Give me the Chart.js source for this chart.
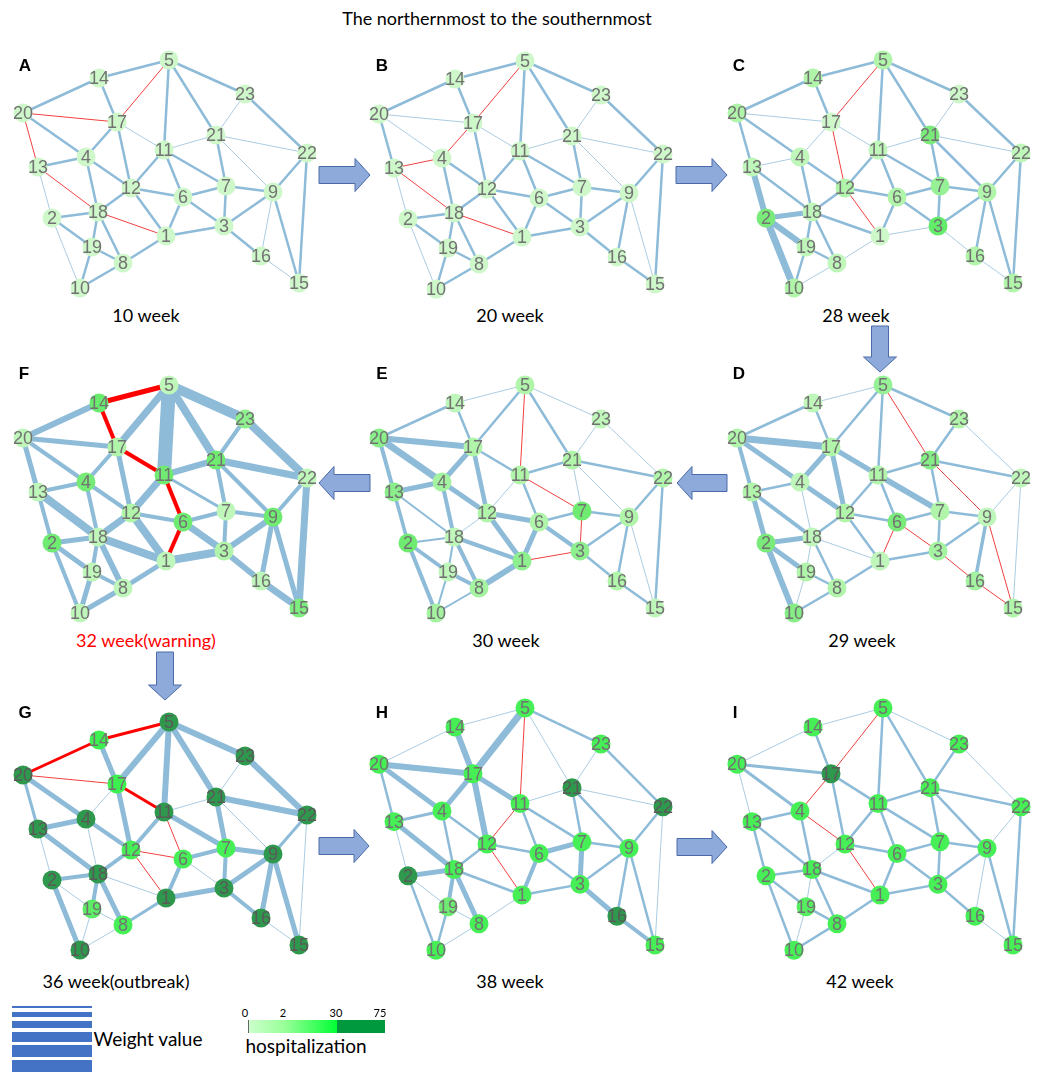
<!DOCTYPE html>
<html>
<head>
<meta charset="utf-8">
<script src="https://cdn.jsdelivr.net/npm/chart.js@4.4.1/dist/chart.umd.min.js"></script>
<style>
  html, body { margin: 0; padding: 0; background: #fff; }
  #stage { position: relative; width: 1040px; height: 1072px; overflow: hidden; font-family: Lato, "Open Sans", sans-serif; color: #000; }
  #stage canvas { position: absolute; }
  #arrows { position: absolute; left: 0; top: 0; }
  .lbl { position: absolute; white-space: nowrap; transform: translate(-50%, -50%); font-size: 18px; }
  .letter { position: absolute; transform: translate(-50%, -50%); font: bold 17px "Liberation Sans", Arial, sans-serif; }
  .wbar { position: absolute; left: 12px; width: 80px; background: #4472c4; }
  .tick { position: absolute; font-size: 11px; transform: translate(-50%, -50%); }
</style>
</head>
<body>
<div id="stage">
  <svg id="arrows" width="1040" height="1072"></svg>
  <div class="lbl" style="left:497px;top:18px">The northernmost to the southernmost</div>
</div>
<script>
// node layout (same for every week), node 1..23
const NODE_IDS = [1, 2, 3, 4, 5, 6, 7, 8, 9, 10, 11, 12, 13, 14, 15, 16, 17, 18, 19, 20, 21, 22, 23];
const NODE_X = [166, 52, 224, 86, 169, 183, 226, 123, 273, 80, 164, 131, 38, 99, 299, 261, 117, 98, 92, 23, 216, 307, 245];
const NODE_Y = [236, 218, 226, 157, 60, 197, 186, 263, 192, 288, 150, 188, 167, 78, 283, 256, 122, 212, 247, 113, 135, 153, 94];

const EDGES = [
   [5, 14], [5, 17], [5, 11], [5, 21], [5, 23],
   [14, 20], [14, 17],
   [20, 17], [20, 4], [20, 13],
   [17, 4], [17, 11], [17, 12],
   [4, 13], [4, 12], [4, 18],
   [13, 18], [13, 2],
   [23, 21], [23, 22],
   [21, 11], [21, 22], [21, 7], [21, 9],
   [11, 12], [11, 6], [11, 7],
   [22, 9], [22, 15],
   [12, 6], [12, 18], [12, 1],
   [7, 6], [7, 9], [7, 3],
   [9, 3], [9, 16], [9, 15],
   [6, 3], [6, 1],
   [18, 2], [18, 19], [18, 8], [18, 1],
   [2, 19], [2, 10],
   [3, 1], [3, 16],
   [1, 8],
   [19, 8], [19, 10],
   [8, 10],
   [16, 15],
];

// edge weight per week, in EDGES order (negative = red link)
const W_A = [2.5, -1, 2.5, 2.5, 2.5, 2.5, 2.5, -1, 2.5, -1, 2.5, 1, 2.5, 2.5, 2.5, 2.5, -1, 1, 1, 2.5, 1, 1, 2.5, 1, 2.5, 2.5, 2.5, 2.5, 2.5, 2.5, 2.5, 2.5, 2.5, 2.5, 2.5, 2.5, 1, 2.5, 2.5, 2.5, 2.5, 2.5, 2.5, -1, 2.5, 1, 2.5, 2.5, 2.5, 2.5, 2.5, 2.5, 1];
const W_B = [2.5, -1, 2.5, 2.5, 2.5, 2.5, 2.5, 1, 1, 2.5, -1, 1, 2.5, -1, 2.5, 2.5, -1, 1, 1, 2.5, 1, 1, 2.5, 1, 2.5, 2.5, 2.5, 2.5, 2.5, 2.5, 2.5, 2.5, 2.5, 2.5, 2.5, 2.5, 2.5, 1, 2.5, 2.5, 2.5, 2.5, 2.5, -1, 2.5, 1, 2.5, 2.5, 2.5, 2.5, 2.5, 2.5, 2.5];
const W_C = [2.5, -1, 2.5, 2.5, 2.5, 2.5, 2.5, 1, 2.5, 2.5, 1, 1, -1, 1, 2.5, 2.5, 2.5, 6, 1, 2.5, 1, 1, 2.5, 2.5, 2.5, 2.5, 2.5, 2.5, 2.5, 2.5, 2.5, -1, 2.5, 2.5, 2.5, 2.5, 2.5, 2.5, 2.5, 2.5, 5, 2.5, 2.5, 2.5, 6, 7, 1, 1, 1, 2.5, 2.5, 1, 1];
const W_D = [1, 2.5, 2.5, -1, 2.5, 2.5, 2.5, 7, 5, 4, 5, 5, 5, 2.5, 5, 1, 4, 5, 2.5, 1, 2.5, 2.5, 2.5, -1, 2.5, 2.5, 6, 1, 1, 2.5, 2.5, 2.5, 2.5, 2.5, 2.5, 2.5, 3.5, -1, -1, -1, 5, 1, 2.5, 1, 5, 6, 2.5, -1, 2.5, 2.5, 1, 2.5, -1];
const W_E = [1, 2.5, -1, 2.5, 1, 2.5, 2.5, 6, 7, 4, 5, 2.5, 4.5, 5, 5, 4, 2, 3.5, 1, 1, 2.5, 2.5, 1, 1, 1, 2.5, -1, 2.5, 2.5, 5, 1, 5, 2.5, 2.5, -1, 2.5, 2.5, 1, 4, 5, 2, 2, 4, 4, 4, 4, -1, 2.5, 6, 4, 2, 2, 2.5];
const W_F = [-5, 7, 14, 8, 10, 6, -4, 5, 4, 5, 4, -4, 5, 4, 4, 4, 8, 4, 4, 8, 6, 7, 4, 4, 7, -4, 3, 4, 7, 4, 7, 8, 4, 4, 4, 6, 5, 5, 7, -4, 5, 4, 6, 8, 5, 4, 8, 6, 5, 4, 5, 5, 7];
const W_G = [-3, 6, 6, 6, 6, -3, 5, -1, 5, 3, 1, -3, 5, 5, 4, 1, 5, 1, 1, 6, 1, 6, 5, 1, 4, -1, 5, 3, 1, -1, 4, -1, 4, 5, 4, 5, 5, 5, 1, 4, 4, 4, 5, 1, 1, 5, 5, 4, 3, 1, 1, 1, 1];
const W_H = [1, 7, -1, 1, 2.5, 1, 6, 6, 5, 2.5, 5, 5, 6, 3, 2.5, 2.5, 5, 1, 1, 2.5, 1, 1, 2.5, 2.5, -1, 2.5, 2.5, 2.5, 1, 2.5, 2.5, -1, 5, 2.5, 5, 2.5, 2.5, 2.5, 2.5, 4, 5, 4, 5, 2.5, 1, 2.5, 2.5, 5, 1, 1, 2.5, 1, 4];
const W_I = [1, -1, 2.5, 2.5, 1, 1, 2.5, 3, 3, 1, -1, 2.5, 2.5, 2.5, -1, 2.5, 2.5, 2.5, 2.5, 1, 2.5, 2.5, 2.5, 2.5, 2.5, 2.5, 2.5, 1, 2.5, 2.5, 1, -1, 2.5, 2.5, 2.5, 2.5, 1, 2.5, 2.5, 2.5, 2.5, 1, 2.5, 2.5, 2.5, 2.5, 2.5, 2.5, 2.5, 2.5, 1, 2.5, 1];

// hospitalization per node (1..23) per week
const V_A = [0, 0, 0, 0, 0, 0, 0, 0, 0, 0, 0, 0, 0, 0, 0, 0, 0, 0, 0, 0, 0, 0, 0];
const V_B = [0, 0, 0, 0, 0, 0, 0, 0, 0, 0, 0, 0, 0, 0, 0, 0, 0, 0, 0, 0, 0, 0, 0];
const V_C = [0, 9, 16, 0.5, 1, 1, 2, 0.5, 1, 1, 0.5, 1, 0.5, 1, 1, 1, 0, 0.5, 0.5, 1, 9, 0.5, 0];
const V_D = [0.5, 9, 1.5, 0.5, 2, 9, 1, 1, 0.5, 6, 1, 1, 1, 0.5, 1, 1.5, 1, 0.5, 1, 1, 6, 0.5, 1];
const V_E = [4, 12, 4, 1.5, 1, 1, 12, 1.5, 1, 1.5, 1, 1, 5, 0.5, 0.5, 1, 1, 0.5, 0.5, 5, 1, 1, 0.5];
const V_F = [0.5, 12, 1, 10, 0.5, 12, 0.5, 0.5, 12, 0.5, 12, 1, 0.5, 14, 8, 0.5, 1, 0.5, 0.5, 0.5, 12, 0.5, 4];
const V_G = [45, 45, 45, 45, 45, 25, 25, 25, 45, 45, 45, 25, 45, 28, 45, 45, 28, 45, 18, 45, 45, 45, 45];
const V_H = [25, 45, 25, 25, 25, 25, 25, 25, 25, 25, 25, 25, 25, 25, 25, 45, 25, 25, 12, 25, 45, 45, 25];
const V_I = [25, 25, 25, 25, 25, 25, 25, 25, 25, 25, 25, 25, 25, 25, 25, 25, 45, 25, 20, 25, 25, 25, 25];

const PANEL_KEYS = ["A", "B", "C", "D", "E", "F", "G", "H", "I"];
const PANEL_WEEKS = ["10 week", "20 week", "28 week", "29 week", "30 week", "32 week(warning)", "36 week(outbreak)", "38 week", "42 week"];
const PANEL_W = [W_A, W_B, W_C, W_D, W_E, W_F, W_G, W_H, W_I];
const PANEL_V = [V_A, V_B, V_C, V_D, V_E, V_F, V_G, V_H, V_I];

const LEGEND_TICKS = [0, 2, 30, 75];

// page placement of each panel: offset + vertical stretch, letter and caption spots
const PANEL_BOX = {
   A: { dx: 0, dy: 0, sy: 1, letter: [25, 66], cap: [146, 315] },
   B: { dx: 356, dy: 1, sy: 1, letter: [382, 66], cap: [510, 315] },
   C: { dx: 714, dy: 0, sy: 1, letter: [739, 66], cap: [856, 315] },
   D: { dx: 714, dy: 324.5, sy: 1, letter: [739, 374], cap: [862, 640] },
   E: { dx: 356, dy: 324.5, sy: 1, letter: [382, 374], cap: [506, 640] },
   F: { dx: 0, dy: 325, sy: 1, letter: [24, 374], cap: [146, 640] },
   G: { dx: 0, dy: 662, sy: 1, letter: [25, 713], cap: [116, 981] },
   H: { dx: 356, dy: 644.3, sy: 1.061, letter: [382, 713], cap: [510, 981] },
   I: { dx: 714, dy: 644.3, sy: 1.061, letter: [735, 713], cap: [860, 981] },
};
const X_RANGE = [5, 325];
const Y_RANGE = [45, 300];

const BLUE = "#8dbbd8";
const BLUE_THIN = "rgba(141,187,216,0.75)";
const RED = "#ff0000";
const RED_THIN = "#f04040";

// hospitalization colour scale (0 pale → 30 bright green, above 30 dark green)
const SCALE_V = [0, 1, 2, 10, 30];
const SCALE_RGB = [[206, 248, 202], [176, 245, 170], [150, 240, 150], [118, 234, 118], [55, 240, 75]];
const DARK_RGB = [46, 152, 76];

function hospColor(v) {
   if (v > 30) return `rgb(${DARK_RGB.join(",")})`;
   for (let i = 1; i < SCALE_V.length; i++) {
      if (v <= SCALE_V[i]) {
         const t = (v - SCALE_V[i - 1]) / (SCALE_V[i] - SCALE_V[i - 1]);
         const c = SCALE_RGB[i - 1].map((a, k) => Math.round(a + (SCALE_RGB[i][k] - a) * t));
         return `rgb(${c.join(",")})`;
      }
   }
   return `rgb(${SCALE_RGB[SCALE_RGB.length - 1].join(",")})`;
}

const nodeLabels = {
   id: "nodeLabels",
   afterDatasetsDraw(chart) {
      const idx = chart.data.datasets.findIndex((d) => d.isNodes);
      const meta = chart.getDatasetMeta(idx);
      const ctx = chart.ctx;
      ctx.save();
      ctx.font = '18px "Liberation Sans", Arial, sans-serif';
      ctx.textAlign = "center";
      ctx.textBaseline = "middle";
      meta.data.forEach((pt, i) => {
         const dark = chart.data.datasets[idx].values[i] > 30;
         ctx.fillStyle = dark ? "#5a5a5a" : "#727272";
         ctx.fillText(String(NODE_IDS[i]), pt.x, pt.y + 1);
      });
      ctx.restore();
   },
};

function buildPanel(key, i) {
   const box = PANEL_BOX[key];
   const stage = document.getElementById("stage");
   const canvas = document.createElement("canvas");
   const w = X_RANGE[1] - X_RANGE[0];
   const h = (Y_RANGE[1] - Y_RANGE[0]) * box.sy;
   canvas.width = w;
   canvas.height = Math.round(h);
   canvas.style.left = `${X_RANGE[0] + box.dx}px`;
   canvas.style.top = `${Y_RANGE[0] * box.sy + box.dy}px`;
   stage.appendChild(canvas);

   const weights = PANEL_W[i];
   const values = PANEL_V[i];

   const datasets = EDGES.map(([a, b], k) => {
      const wv = weights[k];
      const thin = Math.abs(wv) <= 1;
      return {
         data: [{ x: NODE_X[a - 1], y: NODE_Y[a - 1] }, { x: NODE_X[b - 1], y: NODE_Y[b - 1] }],
         showLine: true,
         borderColor: wv < 0 ? (thin ? RED_THIN : RED) : (thin ? BLUE_THIN : BLUE),
         borderWidth: Math.abs(wv),
         pointRadius: 0,
         pointHoverRadius: 0,
         clip: false,
         order: 1,
      };
   });

   datasets.push({
      isNodes: true,
      values,
      data: NODE_IDS.map((n, j) => ({ x: NODE_X[j], y: NODE_Y[j] })),
      pointRadius: 9.5,
      pointHoverRadius: 9.5,
      pointBorderWidth: 0,
      pointBackgroundColor: values.map(hospColor),
      clip: false,
      order: 0,
   });

   new Chart(canvas, {
      type: "scatter",
      data: { datasets },
      options: {
         responsive: false,
         animation: false,
         events: [],
         layout: { padding: 0, autoPadding: false },
         plugins: { legend: { display: false }, tooltip: { enabled: false } },
         scales: {
            x: { type: "linear", min: X_RANGE[0], max: X_RANGE[1], display: false },
            y: { type: "linear", min: Y_RANGE[0], max: Y_RANGE[1], reverse: true, display: false },
         },
      },
      plugins: [nodeLabels],
   });

   const letter = document.createElement("div");
   letter.className = "letter";
   letter.style.left = `${box.letter[0]}px`;
   letter.style.top = `${box.letter[1]}px`;
   letter.textContent = key;
   stage.appendChild(letter);

   const cap = document.createElement("div");
   cap.className = "lbl";
   cap.style.left = `${box.cap[0]}px`;
   cap.style.top = `${box.cap[1]}px`;
   if (key === "F") cap.style.color = "#ff0000";
   cap.textContent = PANEL_WEEKS[i];
   stage.appendChild(cap);
}

PANEL_KEYS.forEach(buildPanel);

// block arrows between weeks: direction, tip position, length
const ARROWS = [
   ["right", 370, 175, 51], ["right", 727, 175, 51], ["down", 880, 372, 46],
   ["left", 677, 483, 50], ["left", 319, 483, 51], ["down", 165, 700, 48],
   ["right", 369, 846, 50], ["right", 727, 847, 50],
];

function arrowPoints(dir, tx, ty, L) {
   const hl = 15, bw = 8.5, hw = 16.5;
   let pts = [[-L, -bw], [-hl, -bw], [-hl, -hw], [0, 0], [-hl, hw], [-hl, bw], [-L, bw]];
   if (dir === "left") pts = pts.map(([x, y]) => [-x, y]);
   if (dir === "down") pts = pts.map(([x, y]) => [y, x]);
   return pts.map(([x, y]) => `${tx + x},${ty + y}`).join(" ");
}

const svg = document.getElementById("arrows");
svg.innerHTML = ARROWS.map(([d, x, y, L]) =>
   `<polygon points="${arrowPoints(d, x, y, L)}" fill="#8eaadb" stroke="#4a6aa8" stroke-width="1"/>`).join("");

// legend: weight bars
const stage = document.getElementById("stage");
[[1006, 2], [1012, 5], [1021, 7], [1032, 10], [1045, 12], [1060, 12]].forEach(([top, hgt]) => {
   const bar = document.createElement("div");
   bar.className = "wbar";
   bar.style.top = `${top}px`;
   bar.style.height = `${hgt}px`;
   stage.appendChild(bar);
});
stage.insertAdjacentHTML("beforeend", `
  <div class="lbl" style="left:148px;top:1038px;font-size:19px">Weight value</div>
  <div style="position:absolute;left:248px;top:1020px;width:136px;height:13px;
       background:linear-gradient(to right, #ccffcc 0%, #99ff99 26%, #00ff33 65%, #00993d 65%, #00993d 100%);
       border-left:1px solid #666"></div>
  <div class="lbl" style="left:306px;top:1045px;font-size:19px">hospitalization</div>
`);
const tickX = [245, 283, 336, 380];
LEGEND_TICKS.forEach((t, i) => {
   const el = document.createElement("div");
   el.className = "tick";
   el.style.left = `${tickX[i]}px`;
   el.style.top = "1012px";
   el.textContent = String(t);
   stage.appendChild(el);
});
</script>
</body>
</html>
